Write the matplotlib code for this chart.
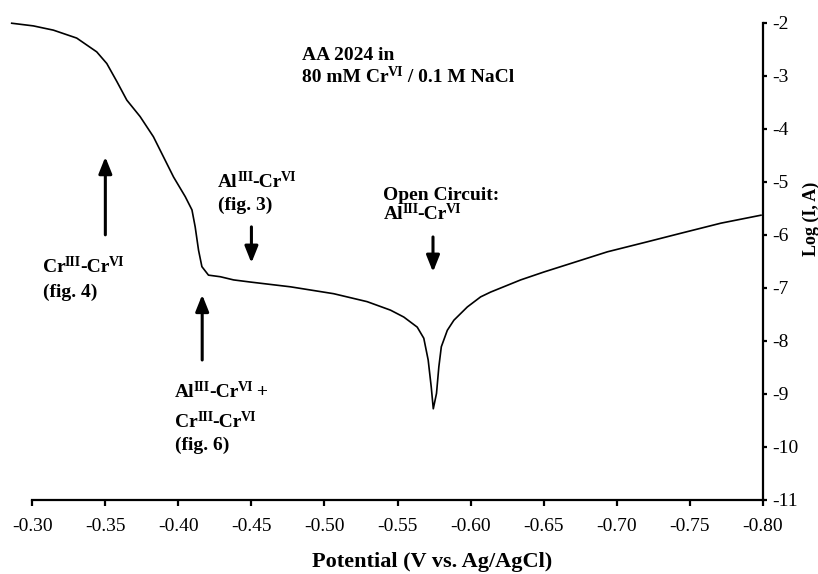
import numpy as np
import matplotlib
matplotlib.use('Agg')
import matplotlib.pyplot as plt

plt.rcParams['font.family'] = 'Liberation Serif'

# polarization curve
potential = [-0.2859, -0.3007, -0.3075, -0.3144, -0.3304, -0.3441, -0.3510, -0.3579, -0.3647,
             -0.3738, -0.3829, -0.3898, -0.3967, -0.4047, -0.4093, -0.4115, -0.4138,
             -0.4161, -0.4206, -0.4287, -0.4378, -0.4492, -0.4767, -0.5063, -0.5292,
             -0.5452, -0.5543, -0.5635, -0.5680, -0.5710, -0.5731, -0.5745, -0.5767,
             -0.5783, -0.5800, -0.5841, -0.5886, -0.5978, -0.6069, -0.6137, -0.6343,
             -0.6503, -0.6686, -0.6937, -0.7212, -0.7440, -0.7714, -0.7988]
log_i = [-2.01, -2.06, -2.10, -2.14, -2.29, -2.55, -2.77, -3.11, -3.46,
         -3.77, -4.15, -4.53, -4.91, -5.28, -5.53, -5.85, -6.29,
         -6.60, -6.76, -6.79, -6.85, -6.89, -6.98, -7.11, -7.26,
         -7.42, -7.55, -7.74, -7.95, -8.36, -8.87, -9.28, -8.99,
         -8.49, -8.11, -7.80, -7.61, -7.36, -7.17, -7.08, -6.85,
         -6.70, -6.54, -6.32, -6.13, -5.97, -5.78, -5.63]

x_ticks = [-0.30, -0.35, -0.40, -0.45, -0.50, -0.55, -0.60, -0.65, -0.70, -0.75, -0.80]
y_ticks = [-2, -3, -4, -5, -6, -7, -8, -9, -10, -11]

fig = plt.figure(figsize=(8.18, 5.74), dpi=100)
W, H = 818.0, 574.0
ax = fig.add_axes([32.3 / W, (H - 500) / H, (762.7 - 32.3) / W, (500 - 22.7) / H])

ax.plot(potential, log_i, color='black', lw=1.2, clip_on=False)

ax.set_xlim(-0.30, -0.80)
ax.set_ylim(-11, -2)
ax.set_xticks(x_ticks)
ax.set_xticklabels(['%.2f' % v for v in x_ticks])
ax.set_yticks(y_ticks)
ax.set_yticklabels([str(v) for v in y_ticks])

ax.spines['top'].set_visible(False)
ax.spines['left'].set_visible(False)
ax.spines['bottom'].set_linewidth(1.6)
ax.spines['right'].set_linewidth(1.6)
ax.yaxis.tick_right()
ax.tick_params(axis='x', direction='out', length=4, width=1.6, labelsize=14, pad=9)
ax.tick_params(axis='y', direction='out', length=3, width=1.6, labelsize=14, pad=4)

ax.set_xlabel('Potential (V vs. Ag/AgCl)', fontsize=16, fontweight='bold')
ax.xaxis.set_label_coords((432 - 32.3) / 730.4, -0.108)
ax.text(1.066, 0.59, 'Log (I, A)', transform=ax.transAxes, rotation=90,
        ha='center', va='center', fontsize=13, fontweight='bold')


def sup_text(x, y, parts, size=14):
    # parts: list of (string, superscript?) drawn one after another
    first = ax.text(x, y, parts[0][0], fontsize=size, fontweight='bold', va='baseline')
    prev = first
    for s, sup in parts[1:]:
        rise = 4.8 if sup else 0
        fs = size * 0.72 if sup else size
        prev = ax.annotate(s, xy=(1, 0), xycoords=(prev, first), xytext=(-0.6, rise),
                           textcoords='offset points', va='bottom', ha='left',
                           fontsize=fs, fontweight='bold')
    return first


al_cr = [('Al', False), ('III', True), ('-Cr', False), ('VI', True)]
cr_cr = [('Cr', False), ('III', True), ('-Cr', False), ('VI', True)]
tkw = dict(fontsize=14, fontweight='bold', va='baseline', ha='left')

ax.text(-0.4849, -2.70, 'AA 2024 in', **tkw)
sup_text(-0.4849, -3.12, [('80 mM Cr', False), ('VI', True), (' / 0.1 M NaCl', False)])

ax.text(-0.5403, -5.34, 'Open Circuit:', **tkw)
sup_text(-0.5403, -5.70, al_cr)

sup_text(-0.4273, -5.10, al_cr)
ax.text(-0.4273, -5.53, '(fig. 3)', **tkw)

sup_text(-0.3073, -6.70, cr_cr)
ax.text(-0.3073, -7.17, '(fig. 4)', **tkw)

sup_text(-0.3978, -9.06, al_cr + [(' +', False)])
sup_text(-0.3978, -9.62, cr_cr)
ax.text(-0.3978, -10.06, '(fig. 6)', **tkw)

arrow = dict(arrowstyle='-|>,head_width=0.22,head_length=0.55', lw=2.2, color='black',
             shrinkA=0, shrinkB=0, mutation_scale=18)
ax.annotate('', xy=(-0.5743, -6.70), xytext=(-0.5743, -6.04), arrowprops=arrow)
ax.annotate('', xy=(-0.45, -6.53), xytext=(-0.45, -5.85), arrowprops=arrow)
ax.annotate('', xy=(-0.35, -4.53), xytext=(-0.35, -6.00), arrowprops=arrow)
ax.annotate('', xy=(-0.4163, -7.13), xytext=(-0.4163, -8.36), arrowprops=arrow)

fig.savefig('out.png', dpi=100)
